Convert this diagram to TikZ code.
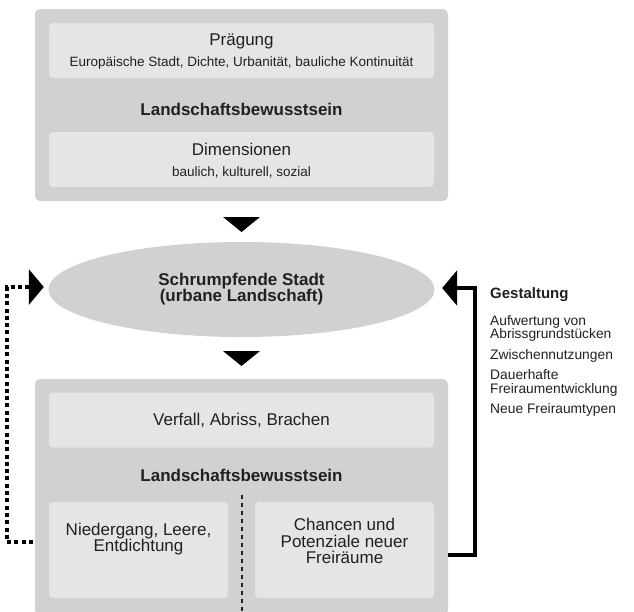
\documentclass[tikz,border=0pt]{standalone}
\usepackage{fontspec}
\setmainfont{Liberation Sans}
\usetikzlibrary{shapes.geometric, arrows.meta, positioning}
\definecolor{outergray}{HTML}{D1D1D1}
\definecolor{innergray}{HTML}{E5E5E5}
\definecolor{textgray}{HTML}{231F20}
\newcommand{\mainsize}{\fontsize{17}{16.5}\selectfont}
\newcommand{\subsize}{\fontsize{13.5}{14}\selectfont}
\newcommand{\sidesize}{\fontsize{13.8}{13.5}\selectfont}

\begin{document}
\begin{tikzpicture}[
    x=1pt, y=1pt,
    outerbox/.style={fill=outergray, rounded corners=5pt, minimum width=413pt, inner sep=0pt},
    innerbox/.style={fill=innergray, rounded corners=4pt, minimum width=385pt, minimum height=55pt, inner sep=0pt},
    halfbox/.style={fill=innergray, rounded corners=4pt, minimum width=179pt, minimum height=96pt, inner sep=0pt},
    title/.style={font=\mainsize, text=textgray, inner sep=0pt, align=center},
    subtitle/.style={font=\subsize, text=textgray, inner sep=0pt},
    heading/.style={font=\mainsize\bfseries, text=textgray, inner sep=0pt},
    sidetext/.style={font=\sidesize, text=textgray, align=left, inner sep=0pt},
    feedback/.style={draw=black, line width=3.5pt, -{Triangle[length=15pt, width=35pt]}},
    dotfeedback/.style={draw=black, line width=4pt, dash pattern=on 4pt off 3.3pt, -{Triangle[length=15pt, width=35pt]}}
]
\useasboundingbox (0,0) rectangle (634,-611);
\clip (0,0) rectangle (634,-611);

% upper block
\node [outerbox, minimum height=192pt] (topbox) at (241.5,-105) {};
\node [innerbox] (praegung) at (241.5,-50.5) {};
\node [title, anchor=base] (praegungtitle) at (241.5,-45.7) {Prägung};
\node [subtitle, anchor=base] (praegungtext) at (241.5,-66.7) {Europäische Stadt, Dichte, Urbanität, bauliche Kontinuität};
\node [heading, anchor=base] (bewusstoben) at (241.5,-115) {Landschaftsbewusstsein};
\node [innerbox] (dimensionen) at (241.5,-159.5) {};
\node [title, anchor=base] (dimensionentitle) at (241.5,-155.7) {Dimensionen};
\node [subtitle, anchor=base] (dimensionentext) at (241.5,-176) {baulich, kulturell, sozial};

% city
\node [ellipse, fill=outergray, minimum width=386pt, minimum height=95pt, inner sep=0pt,
       font=\fontsize{17}{16}\selectfont\bfseries, text=textgray, align=center] (city) at (241.5,-289.5)
       {Schrumpfende Stadt\\(urbane Landschaft)};

% lower block
\node [outerbox, minimum height=236pt] (lowbox) at (241.5,-497) {};
\node [innerbox, font=\mainsize, text=textgray] (verfall) at (241.5,-420) {Verfall, Abriss, Brachen};
\node [heading, anchor=base] (bewusstunten) at (241.5,-481) {Landschaftsbewusstsein};
\node [halfbox] (niedergang) at (138.5,-550) {};
\node [halfbox] (chancen) at (344.5,-550) {};
\node [title] (niedergangtext) at (138.5,-539) {Niedergang, Leere,\\Entdichtung};
\node [title] (chancentext) at (344.5,-541) {Chancen und\\Potenziale neuer\\Freiräume};
\draw [textgray, line width=1.2pt, dash pattern=on 4pt off 4pt] (242,-495) -- (242,-611);

% down triangles
\foreach \ty in {217,351}
  \fill [black] (223,-\ty) -- (260,-\ty) -- (241.5,-\ty-15) -- cycle;

% Gestaltung
\node [font=\fontsize{15}{15}\selectfont\bfseries, text=textgray, anchor=base west, inner sep=0pt] (gestaltung) at (490,-298) {Gestaltung};
\node [sidetext, anchor=north west] (gestaltungtext) at (490,-315)
  {Aufwertung von\\Abrissgrundstücken\\[7pt]Zwischennutzungen\\[7pt]Dauerhafte\\Freiraumentwicklung\\[7pt]Neue Freiraumtypen};

% feedback
\coordinate (dotstart) at (33,-542);
\draw [dotfeedback] (dotstart) -- ++(-26,0) |- ([xshift=-4.5pt,yshift=2.5pt]city.west);
\draw [feedback] (lowbox.east |- 0,-555) -- ++(27,0) |- ([xshift=7.5pt,yshift=1.5pt]city.east);
\end{tikzpicture}
\end{document}
